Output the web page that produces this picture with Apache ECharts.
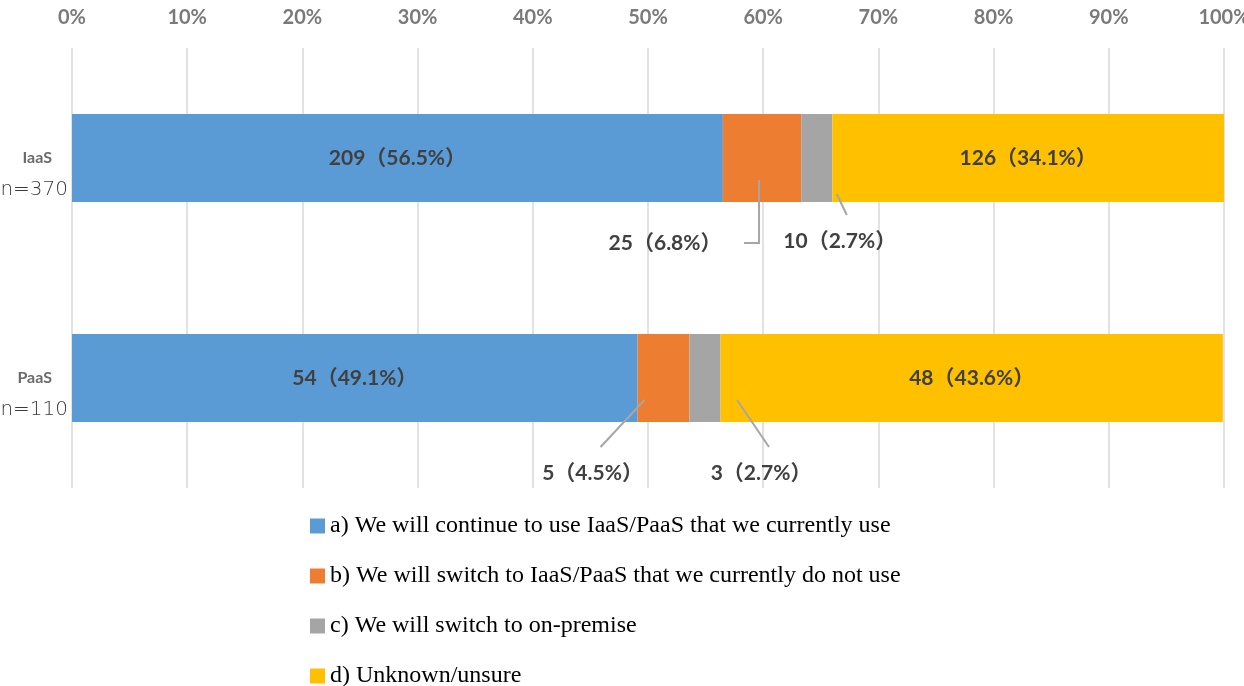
<!DOCTYPE html>
<html><head><meta charset="utf-8">
<script src="https://cdn.jsdelivr.net/npm/echarts@6/dist/echarts.min.js"></script>
<style>html,body{margin:0;padding:0;background:#fff}#c{width:1244px;height:686px}</style>
</head><body><div id="c"></div>
<script>
// ---- data ----
const categories = ['IaaS', 'PaaS'];
const sampleSizes = [370, 110];
const seriesNames = [
  'a) We will continue to use IaaS/PaaS that we currently use',
  'b) We will switch to IaaS/PaaS that we currently do not use',
  'c) We will switch to on-premise',
  'd) Unknown/unsure'
];
const countsA = [209, 54];
const pctA = [56.5, 49.1];
const countsB = [25, 5];
const pctB = [6.8, 4.5];
const countsC = [10, 3];
const pctC = [2.7, 2.7];
const countsD = [126, 48];
const pctD = [34.1, 43.6];
const xTicks = [0, 10, 20, 30, 40, 50, 60, 70, 80, 90, 100];

// ---- styling ----
const colors = ['#5b9bd5', '#ed7d31', '#a5a5a5', '#ffc000'];
const labelFont = 'Lato, "Noto Sans CJK JP", sans-serif';
// callout layout (pixel offsets relative to segment centre / bar bottom), per category for series b and c
const calloutLayout = {
  'b0': { line: [[-3, -22], [-3, 41], [-18, 41]], label: [-97, 41] },
  'c0': { line: [[20, -8], [30, 13]], label: [23, 39] },
  'b1': { line: [[-19, -22], [-63, 25]], label: [-71, 51] },
  'c1': { line: [[32, -22], [64, 25]], label: [56, 51] }
};

const pctSeries = [pctA, pctB, pctC, pctD];
const countSeries = [countsA, countsB, countsC, countsD];

function fmt(count, pct) { return count + '（' + pct.toFixed(1) + '%）'; }

const barSeries = pctSeries.map((arr, si) => ({
  name: seriesNames[si],
  type: 'bar',
  stack: 'total',
  barWidth: '40%',
  itemStyle: { color: colors[si] },
  data: arr,
  label: (si === 0 || si === 3) ? {
    show: true, position: 'inside',
    fontFamily: labelFont, fontSize: 21, fontWeight: 'bold', color: '#404040',
    formatter: p => fmt(countSeries[si][p.dataIndex], arr[p.dataIndex])
  } : { show: false }
}));

// callout data: [start, width, catIndex, seriesIndex]
const calloutData = [];
categories.forEach((c, ci) => {
  calloutData.push([pctA[ci], pctB[ci], ci, 1]);
  calloutData.push([pctA[ci] + pctB[ci], pctC[ci], ci, 2]);
});

const calloutSeries = {
  type: 'custom',
  silent: true,
  z: 10,
  data: calloutData,
  renderItem: function (params, api) {
    const start = api.value(0), w = api.value(1), ci = api.value(2), si = api.value(3);
    const center = api.coord([start + w / 2, ci]);
    const band = api.size([0, 1])[1];
    const by = center[1] + band * 0.4 / 2;
    const cx = center[0];
    const key = (si === 1 ? 'b' : 'c') + ci;
    const lay = calloutLayout[key];
    const pts = lay.line.map(p => [cx + p[0], by + p[1]]);
    const count = countSeries[si][ci], pct = pctSeries[si][ci];
    return {
      type: 'group',
      children: [
        { type: 'polyline', shape: { points: pts }, style: { stroke: '#a6a6a6', lineWidth: 2, fill: null } },
        { type: 'text', x: cx + lay.label[0], y: by + lay.label[1],
          style: { text: fmt(count, pct), fill: '#404040', font: 'bold 21px ' + labelFont, align: 'center', verticalAlign: 'middle' } }
      ]
    };
  }
};

const chart = echarts.init(document.getElementById('c'), null, { renderer: 'canvas' });
chart.setOption({
  animation: false,
  backgroundColor: '#fff',
  grid: { left: 72, right: 20, top: 48, height: 440, containLabel: false, outerBoundsMode: 'none' },
  xAxis: {
    type: 'value', position: 'top', min: xTicks[0], max: xTicks[xTicks.length - 1], interval: 10,
    axisLine: { show: false }, axisTick: { show: false },
    splitLine: { lineStyle: { color: '#d9d9d9', width: 1.5 } },
    axisLabel: { formatter: '{value}%', margin: 20, fontFamily: labelFont, fontSize: 20, fontWeight: 'bold', color: '#7a7a7a' }
  },
  yAxis: {
    type: 'category', data: categories, inverse: true,
    axisLine: { show: false }, axisTick: { show: false },
    axisLabel: {
      margin: 4,
      padding: [32, 0, 0, 0],
      formatter: (v, i) => '{a|' + v + '}\n{b|n=' + sampleSizes[i] + '}',
      rich: {
        a: { fontFamily: labelFont, fontSize: 16, fontWeight: 'bold', color: '#6a6a6a', lineHeight: 32, padding: [0, 16, 0, 0], align: 'right' },
        b: { fontFamily: '"DejaVu Sans", sans-serif', fontSize: 20, fontWeight: 200, color: '#3a3a3a', lineHeight: 32, align: 'right' }
      }
    }
  },
  legend: {
    orient: 'vertical', left: 305, top: 509, height: 300, itemGap: 26, itemWidth: 15, itemHeight: 15,
    icon: 'rect',
    data: seriesNames,
    textStyle: { fontFamily: '"Liberation Serif", serif', fontSize: 24, color: '#000' }
  },
  series: barSeries.concat([calloutSeries])
});
</script>
</body></html>
